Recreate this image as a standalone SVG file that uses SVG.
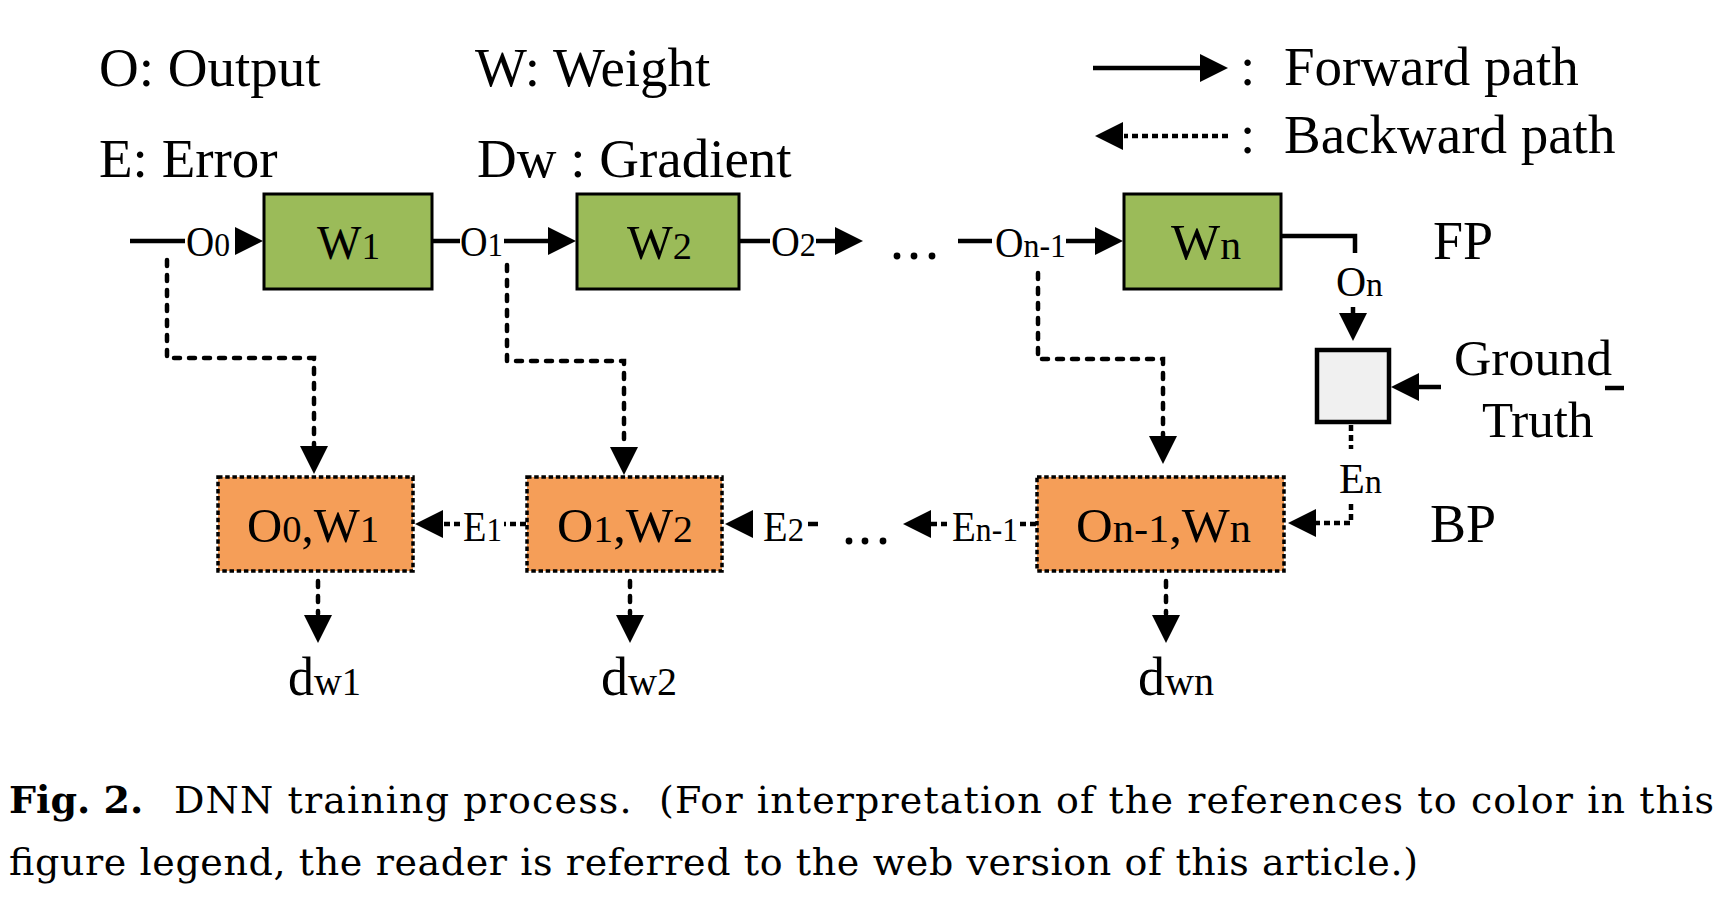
<svg xmlns="http://www.w3.org/2000/svg" xmlns:xlink="http://www.w3.org/1999/xlink" width="1728" height="914" viewBox="0 0 1728 914">
<style>
  .t{font-family:"Liberation Serif","Times New Roman",serif;fill:#000}
  .leg{font-size:55px}
  .side{font-size:54px}
  .cap{font-family:"DejaVu Serif","Liberation Serif",serif;font-size:38px;fill:#000}
  .solid{fill:none;stroke:#000;stroke-width:4.5}
  .dash{fill:none;stroke:#000;stroke-width:4.5;stroke-dasharray:6 9;stroke-linecap:round}
  .dot{fill:none;stroke:#000;stroke-width:4.5;stroke-dasharray:6 4}
  .wbox{fill:#9BBB59;stroke:#000;stroke-width:3}
  .obox{fill:#F59E58;stroke:#000;stroke-width:3.5;stroke-dasharray:4.5 2.7}
  .gbox{fill:#F0F0F0;stroke:#000;stroke-width:4.5}
  .ah{fill:#000}
</style>
<defs>
  <path id="ah" class="ah" d="M0,0 L-28,-14 L-28,14 Z"/>
</defs>
<rect width="1728" height="914" fill="#fff"/>

<g id="legend">
  <text class="t leg" x="99" y="86">O: Output</text>
  <text class="t leg" x="475" y="86">W: Weight</text>
  <text class="t leg" x="99" y="177">E: Error</text>
  <text class="t leg" x="477" y="177">Dw : Gradient</text>
  <path class="solid" d="M1093,68 H1200"/>
  <use xlink:href="#ah" transform="translate(1228,68)"/>
  <text class="t leg" x="1240" y="85">:</text>
  <text class="t leg" x="1284" y="85">Forward path</text>
  <path class="dot" d="M1228,136 H1124"/>
  <use xlink:href="#ah" transform="translate(1095,136) rotate(180)"/>
  <text class="t leg" x="1240" y="153">:</text>
  <text class="t leg" x="1284" y="153">Backward path</text>
  <text class="t side" x="1433" y="259">FP</text>
  <text class="t side" x="1430" y="542">BP</text>
</g>

<g id="connectors">
  <!-- forward path -->
  <path class="solid" d="M130,241 H185"/>
  <text class="t" x="186" y="256" textLength="44" lengthAdjust="spacingAndGlyphs"><tspan font-size="42">O</tspan><tspan font-size="34">0</tspan></text>
  <use xlink:href="#ah" transform="translate(263,241)"/>
  <path class="solid" d="M433,241 H460"/>
  <text class="t" x="460" y="256" textLength="43" lengthAdjust="spacingAndGlyphs"><tspan font-size="42">O</tspan><tspan font-size="34">1</tspan></text>
  <path class="solid" d="M504,241 H548"/>
  <use xlink:href="#ah" transform="translate(576,241)"/>
  <path class="solid" d="M739,241 H770"/>
  <text class="t" x="771" y="256" textLength="45" lengthAdjust="spacingAndGlyphs"><tspan font-size="42">O</tspan><tspan font-size="34">2</tspan></text>
  <path class="solid" d="M816,241 H836"/>
  <use xlink:href="#ah" transform="translate(863,241)"/>
  <g class="ah">
    <circle cx="897" cy="256" r="3.4"/><circle cx="914" cy="256" r="3.4"/><circle cx="932" cy="256" r="3.4"/>
  </g>
  <path class="solid" d="M958,241 H992"/>
  <text class="t" x="995" y="257" textLength="71" lengthAdjust="spacingAndGlyphs"><tspan font-size="42">O</tspan><tspan font-size="34">n-1</tspan></text>
  <path class="solid" d="M1066,241 H1096"/>
  <use xlink:href="#ah" transform="translate(1123,241)"/>
  <path class="solid" d="M1281,236 H1355 V253"/>
  <text class="t" x="1336" y="296" textLength="47" lengthAdjust="spacingAndGlyphs"><tspan font-size="42">O</tspan><tspan font-size="34">n</tspan></text>
  <path class="solid" d="M1353,307 V314"/>
  <use xlink:href="#ah" transform="translate(1353,341) rotate(90)"/>
  <path class="solid" d="M1441,387 H1418"/>
  <use xlink:href="#ah" transform="translate(1391,387) rotate(180)"/>
  <path class="solid" d="M1605,388 H1624"/>

  <!-- outputs to backward blocks -->
  <path class="dash" d="M167,260 V358 H314 V446"/>
  <use xlink:href="#ah" transform="translate(314,474) rotate(90)"/>
  <path class="dash" d="M507,265 V361 H624 V447"/>
  <use xlink:href="#ah" transform="translate(624,475) rotate(90)"/>
  <path class="dash" d="M1038,273 V359 H1163 V436"/>
  <use xlink:href="#ah" transform="translate(1163,464) rotate(90)"/>

  <!-- backward path -->
  <path class="dot" d="M1351,425 V449"/>
  <text class="t" x="1339" y="493" textLength="43" lengthAdjust="spacingAndGlyphs"><tspan font-size="42">E</tspan><tspan font-size="34">n</tspan></text>
  <path class="dot" d="M1351,504 V523 H1316"/>
  <use xlink:href="#ah" transform="translate(1288,523) rotate(180)"/>
  <path class="dot" d="M1036,524 H1020"/>
  <text class="t" x="952" y="541" textLength="66" lengthAdjust="spacingAndGlyphs"><tspan font-size="42">E</tspan><tspan font-size="34">n-1</tspan></text>
  <path class="dot" d="M947,524 H931"/>
  <use xlink:href="#ah" transform="translate(903,524) rotate(180)"/>
  <g class="ah">
    <circle cx="849" cy="541" r="3.4"/><circle cx="865" cy="541" r="3.4"/><circle cx="883" cy="541" r="3.4"/>
  </g>
  <path class="solid" d="M818,524 H808"/>
  <text class="t" x="763" y="541" textLength="41" lengthAdjust="spacingAndGlyphs"><tspan font-size="42">E</tspan><tspan font-size="34">2</tspan></text>
  <use xlink:href="#ah" transform="translate(725,524) rotate(180)"/>
  <path class="dot" d="M526,524 H504"/>
  <text class="t" x="463" y="541" textLength="39" lengthAdjust="spacingAndGlyphs"><tspan font-size="42">E</tspan><tspan font-size="34">1</tspan></text>
  <path class="dot" d="M460,524 H442"/>
  <use xlink:href="#ah" transform="translate(415,524) rotate(180)"/>

  <!-- gradients -->
  <path class="dash" d="M318,581 V614"/>
  <use xlink:href="#ah" transform="translate(318,643) rotate(90)"/>
  <path class="dash" d="M630,581 V614"/>
  <use xlink:href="#ah" transform="translate(630,643) rotate(90)"/>
  <path class="dash" d="M1166,581 V614"/>
  <use xlink:href="#ah" transform="translate(1166,643) rotate(90)"/>
</g>

<g id="node-w1">
  <rect class="wbox" x="264" y="194" width="168" height="95"/>
  <text class="t" x="317" y="259" textLength="63" lengthAdjust="spacingAndGlyphs"><tspan font-size="48">W</tspan><tspan font-size="38">1</tspan></text>
</g>
<g id="node-w2">
  <rect class="wbox" x="577" y="194" width="162" height="95"/>
  <text class="t" x="627" y="259" textLength="65" lengthAdjust="spacingAndGlyphs"><tspan font-size="48">W</tspan><tspan font-size="38">2</tspan></text>
</g>
<g id="node-wn">
  <rect class="wbox" x="1124" y="194" width="157" height="95"/>
  <text class="t" x="1171" y="259" textLength="70" lengthAdjust="spacingAndGlyphs"><tspan font-size="50">W</tspan><tspan font-size="40">n</tspan></text>
</g>
<g id="node-loss">
  <rect class="gbox" x="1317" y="350" width="72" height="72"/>
</g>
<g id="node-ground-truth">
  <text class="t" x="1454" y="375" font-size="51" textLength="158" lengthAdjust="spacingAndGlyphs">Ground</text>
  <text class="t" x="1482" y="437" font-size="51">Truth</text>
</g>
<g id="node-bp1">
  <rect class="obox" x="218" y="477" width="195" height="94"/>
  <text class="t" x="247" y="542" textLength="132" lengthAdjust="spacingAndGlyphs"><tspan font-size="48">O</tspan><tspan font-size="38">0</tspan><tspan font-size="48">,W</tspan><tspan font-size="38">1</tspan></text>
</g>
<g id="node-bp2">
  <rect class="obox" x="527" y="477" width="195" height="94"/>
  <text class="t" x="557" y="542" textLength="136" lengthAdjust="spacingAndGlyphs"><tspan font-size="48">O</tspan><tspan font-size="38">1</tspan><tspan font-size="48">,W</tspan><tspan font-size="38">2</tspan></text>
</g>
<g id="node-bpn">
  <rect class="obox" x="1037" y="477" width="247" height="94"/>
  <text class="t" x="1076" y="542" textLength="175" lengthAdjust="spacingAndGlyphs"><tspan font-size="48">O</tspan><tspan font-size="40">n-1</tspan><tspan font-size="48">,W</tspan><tspan font-size="40">n</tspan></text>
</g>
<g id="node-dw1">
  <text class="t" x="288" y="695" textLength="73" lengthAdjust="spacingAndGlyphs"><tspan font-size="54">d</tspan><tspan font-size="40">w1</tspan></text>
</g>
<g id="node-dw2">
  <text class="t" x="601" y="695" textLength="76" lengthAdjust="spacingAndGlyphs"><tspan font-size="54">d</tspan><tspan font-size="40">w2</tspan></text>
</g>
<g id="node-dwn">
  <text class="t" x="1138" y="695" textLength="76" lengthAdjust="spacingAndGlyphs"><tspan font-size="54">d</tspan><tspan font-size="40">wn</tspan></text>
</g>

<g id="caption">
  <text class="cap" x="9" y="813" font-weight="bold">Fig. 2.</text>
  <text class="cap" x="174" y="813" textLength="1540" lengthAdjust="spacing">DNN training process.&#160; (For interpretation of the references to color in this</text>
  <text class="cap" x="9" y="875" textLength="1409" lengthAdjust="spacing">figure legend, the reader is referred to the web version of this article.)</text>
</g>
</svg>
